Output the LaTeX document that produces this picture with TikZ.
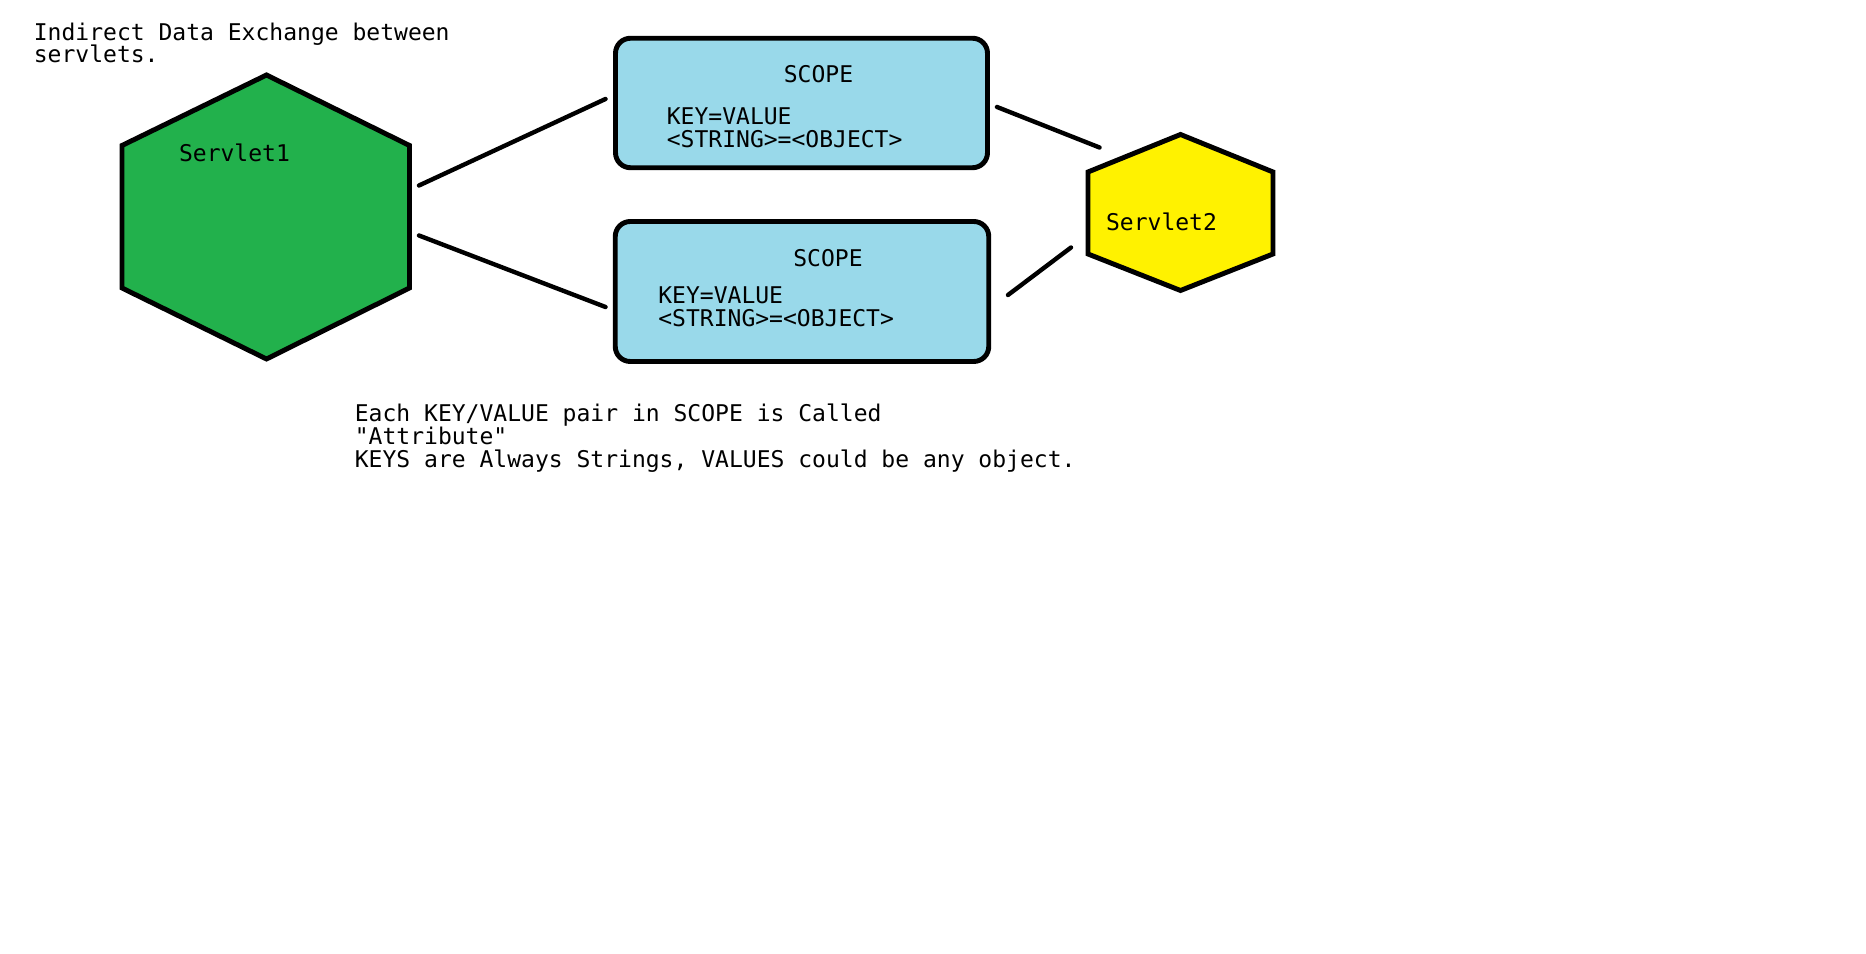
\documentclass[tikz,border=0pt]{standalone}
\usepackage{fontspec}
\setmonofont{DejaVu Sans Mono}
\usepackage{tikz}
\usetikzlibrary{positioning}
\definecolor{servgreen}{HTML}{22B14C}
\definecolor{servyellow}{HTML}{FFF200}
\definecolor{scopeblue}{HTML}{99D9EA}

\begin{document}
\begin{tikzpicture}[
    txt/.style={font=\fontsize{13.1}{12.9}\selectfont\ttfamily, inner sep=0pt, align=left},
    scopebox/.style={draw, line width=2.8pt, fill=scopeblue, rounded corners=0.3cm, inner sep=0pt},
    hexa/.style={draw, line width=2.8pt, line join=miter},
    link/.style={line width=2.5pt, line cap=round}]
          \useasboundingbox (0,0) rectangle (37.32,19.08);
          % Title
          \node[txt, anchor=north west] (title) at (0.67,18.63) {Indirect Data Exchange between\\servlets.};
          % Servlet1 (green hexagon)
          \draw[hexa, fill=servgreen] (5.33,17.58) -- (8.19,16.17) -- (8.19,13.32) -- (5.33,11.90) -- (2.44,13.32) -- (2.44,16.17) -- cycle;
          \node[txt] (servlet1) at (4.69,16.03) {Servlet1};
          % Servlet2 (yellow hexagon)
          \draw[hexa, fill=servyellow] (23.61,16.39) -- (25.46,15.64) -- (25.46,14.00) -- (23.61,13.27) -- (21.76,14.00) -- (21.76,15.64) -- cycle;
          \node[txt] (servlet2) at (23.23,14.65) {Servlet2};
          % Scopes
          \node[scopebox, minimum width=7.44cm, minimum height=2.59cm] (scope1) at (16.03,17.02) {};
          \node[txt] (scope1t) at (16.37,17.60) {SCOPE};
          \node[txt, anchor=west] (scope1kv) at (13.33,16.52) {KEY=VALUE\\<STRING>=<OBJECT>};
          \node[scopebox, minimum width=7.47cm, minimum height=2.80cm] (scope2) at (16.04,13.25) {};
          \node[txt] (scope2t) at (16.56,13.92) {SCOPE};
          \node[txt, anchor=west] (scope2kv) at (13.16,12.95) {KEY=VALUE\\<STRING>=<OBJECT>};
          % Connector ends
          \coordinate (s1up) at (8.38,15.37);
          \coordinate (s1dn) at (8.38,14.37);
          \coordinate (b1in) at (12.11,17.10);
          \coordinate (b2in) at (12.11,12.94);
          \coordinate (b1out) at (19.94,16.94);
          \coordinate (b2out) at (20.16,13.18);
          \coordinate (s2up) at (21.99,16.13);
          \coordinate (s2dn) at (21.42,14.13);
          \draw[link] (s1up) -- (b1in);
          \draw[link] (s1dn) -- (b2in);
          \draw[link] (b1out) -- (s2up);
          \draw[link] (b2out) -- (s2dn);
          % Note
          \node[txt, anchor=north west] (note) at (7.09,11.00) {Each KEY/VALUE pair in SCOPE is Called\\"Attribute"\\KEYS are Always Strings, VALUES could be any object.};
        \end{tikzpicture}
\end{document}
